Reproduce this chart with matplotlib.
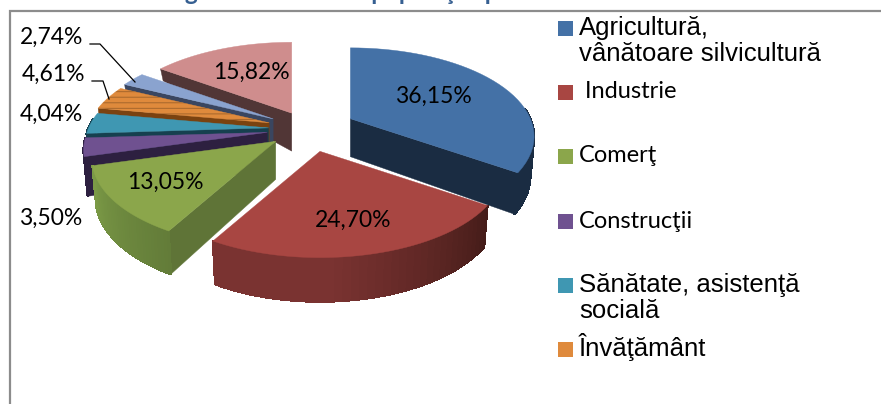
'''Structura populatiei pe domenii de activitate, exploded 3D pie'''
import matplotlib
matplotlib.use('Agg')
import matplotlib.pyplot as plt
import numpy as np
from matplotlib.patches import Polygon, Rectangle

# data
categories = ['Agricultură,\nvânătoare silvicultură', ' Industrie', 'Comerţ', 'Construcţii',
              'Sănătate, asistenţă\nsocială', 'Învăţământ', 'Altele 1', 'Altele 2']
values = [36.15, 24.70, 13.05, 3.50, 4.04, 4.61, 2.74, 15.82]
value_labels = ['36,15%', '24,70%', '13,05%', '3,50%', '4,04%', '4,61%', '2,74%', '15,82%']
title = 'Figura 6. Structura populaţiei pe domenii de activitate'

# style per slice
explode = [0.26, 0.27, 0.235, 0.235, 0.225, 0.233, 0.232, 0.21]
tops = ['#4471a6', '#a84642', '#8ba64b', '#6f5190', '#3f97b2', '#df8a3c', '#8aa3cf', '#cf8d8d']
walls = ['#1a2c42', '#451c19', '#5f7437', '#2d2040', '#16404f', '#7a4210', '#3a4660', '#513636']
rim_start = ['#1a2c42', '#451c19', '#637c39', '#2d2040', '#16404f', '#7a4210', '#3a4660', '#513636']
rim_end = ['#1a2c42', '#7a3331', '#7b9a46', '#2d2040', '#16404f', '#7a4210', '#3a4660', '#513636']
draw_order = [7, 6, 5, 4, 3, 2, 0, 1]

# projection of the pie plane to the picture
CENTER = (309, 129)
RADIUS = 180
K_Y = 85
PERSP = 0.2
BASE_SHRINK = 0.98
LABEL_FONT = 'Lato'
LABEL_SIZE = 16.5


def project(u, v):
    s = 1 / (1 - PERSP * v)
    return RADIUS * u * s, K_Y * v * s


def height(v):
    ''' side wall height, the far side gets much thinner '''
    if v >= -0.1:
        return 38 + 6 * max(v, 0)
    return max(38 - 54 * (-v - 0.1), 4)


def mix(c1, c2, t):
    a, b = np.array(matplotlib.colors.to_rgb(c1)), np.array(matplotlib.colors.to_rgb(c2))
    return tuple(a + (b - a) * t)


def draw_slice(ax, th0, th1, i):
    mid = (th0 + th1) / 2
    ax0 = CENTER[0] + RADIUS * explode[i] * np.sin(mid)
    ay0 = CENTER[1] - K_Y * explode[i] * np.cos(mid)
    apex = np.array([ax0, ay0])

    def top_pt(th):
        return apex + project(np.sin(th), -np.cos(th))

    def base_pt(th):
        d = top_pt(th) - apex
        return apex + (BASE_SHRINK * d[0], d[1] + height(-np.cos(th)))

    apex_base = apex + (0, height(0))

    # radial walls which face the viewer
    if -np.sin(th0) > 0:
        ax.add_patch(Polygon([apex, top_pt(th0), base_pt(th0), apex_base], fc=walls[i], ec=walls[i], lw=0.3))
    if np.sin(th1) > 0:
        ax.add_patch(Polygon([apex, top_pt(th1), base_pt(th1), apex_base], fc=walls[i], ec=walls[i], lw=0.3))

    # rim, only the near part can be seen
    ths = np.linspace(th0, th1, 40)
    for j in range(len(ths) - 1):
        if -np.cos(ths[j]) < -0.1 and -np.cos(ths[j + 1]) < -0.1:
            continue
        c = mix(rim_start[i], rim_end[i], min(j / 24, 1) if i == 1 else j / 38)
        ax.add_patch(Polygon([top_pt(ths[j]), top_pt(ths[j + 1]), base_pt(ths[j + 1]), base_pt(ths[j])],
                             fc=c, ec=c, lw=1.0, antialiased=False))

    # top face
    outline = [apex] + [top_pt(t) for t in ths]
    ax.add_patch(Polygon(outline, fc=tops[i], ec=tops[i], lw=0.3))
    if i == 5:
        # the orange slice has dark streaks in the picture
        plt.rcParams['hatch.linewidth'] = 0.7
        ax.add_patch(Polygon(outline, fc='none', ec='#a5662c', lw=0, hatch='---'))


fig = plt.figure(figsize=(8.81, 4.04), dpi=100)
ax = fig.add_axes([0, 0, 1, 1])
ax.set_xlim(0, 881)
ax.set_ylim(404, 0)
ax.axis('off')

# title is cut by the top of the picture
ax.text(165, 0, title, color='#365f91', fontsize=17.5, fontweight='bold', family=LABEL_FONT, va='baseline',
        clip_on=True)

# frame
ax.plot([9.5, 9.5, 881], [404, 11, 11], color='#8c8c8c', lw=1.6, solid_joinstyle='miter')

# slices
fractions = np.array(values) / sum(values)
edges = np.concatenate([[0], np.cumsum(fractions)]) * 2 * np.pi
for i in draw_order:
    draw_slice(ax, edges[i], edges[i + 1], i)

# value labels
label_pos = [(433, 96), (353, 220), (165, 182), (51, 218), (51, 114), (53, 74), (52, 37), (251, 72)]
for text, (x, y) in zip(value_labels, label_pos):
    ax.text(x, y, text, fontsize=LABEL_SIZE, family=LABEL_FONT, color='black', ha='center', va='center')

# leader lines
ax.plot([90, 100, 135], [44, 44, 82], color='black', lw=0.9)
ax.plot([92, 103, 109], [81, 81, 99], color='black', lw=0.9)

# legend
legend_y = [36, 100, 164, 229, 293, 357]
legend_text_y = [41, 92, 156, 221, 298, 347]
legend_font = ['Liberation Sans', LABEL_FONT, LABEL_FONT, LABEL_FONT, 'Liberation Sans', 'Liberation Sans']
legend_size = [18.5, 17, 17, 17, 18.5, 18.5]
for i in range(6):
    ax.add_patch(Rectangle((558, legend_y[i] - 15), 15, 15, fc=tops[i], ec='none'))
    ax.text(579, legend_text_y[i], categories[i], family=legend_font[i], fontsize=legend_size[i], color='black',
            va='center', ha='left', linespacing=1.1)

fig.savefig('out.png', dpi=100)
